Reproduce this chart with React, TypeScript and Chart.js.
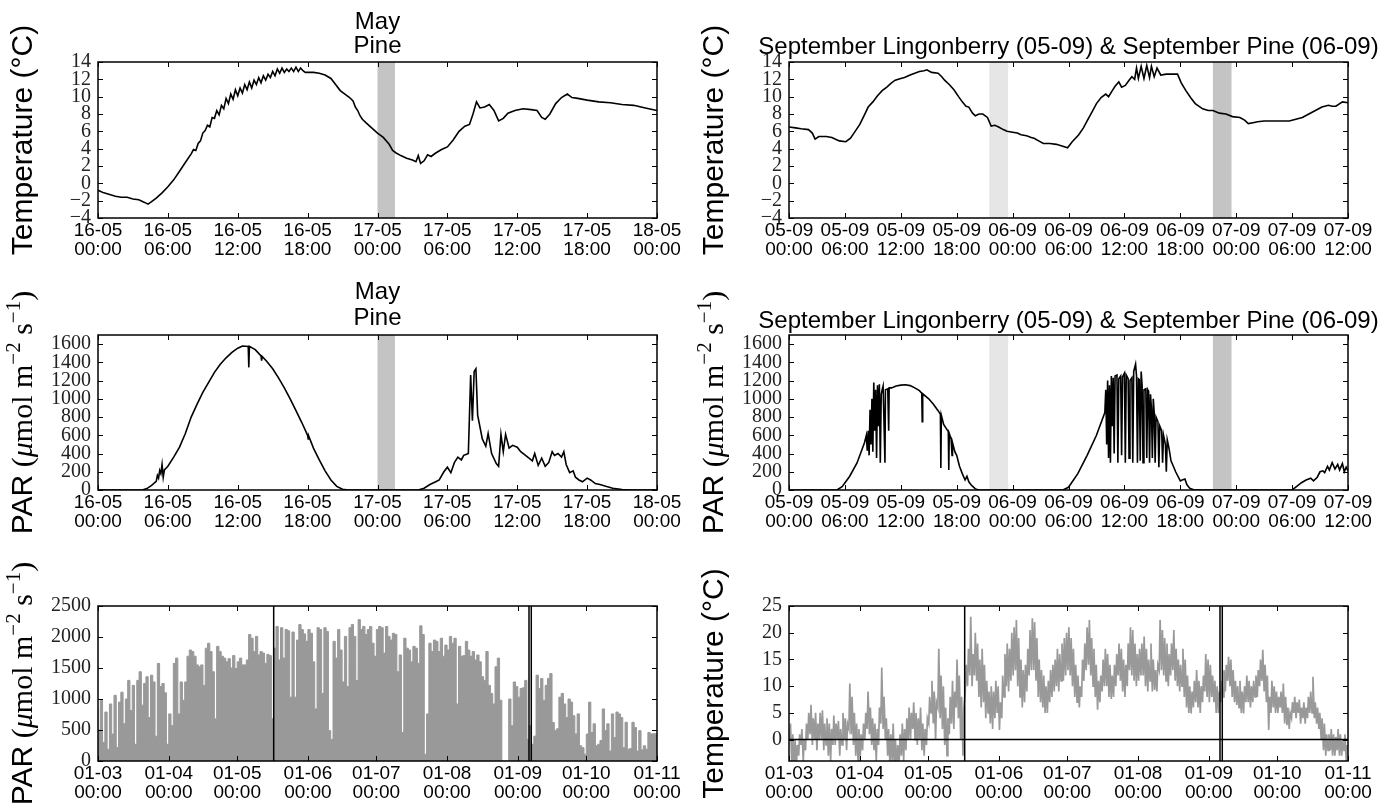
import React, { useEffect, useRef } from "react";
import { Chart, registerables } from "chart.js";
Chart.register(...registerables);

const SANS = '"Liberation Sans", Arial, sans-serif';
const SERIF = '"Liberation Serif", "Times New Roman", serif';

// ---------- May (16-05 00:00 .. 18-05 00:00), x = hours ----------
const mayTemp: [number, number][] = [
  [0,-0.8],[0.5,-1.1],[1,-1.3],[1.5,-1.5],[2,-1.6],[2.5,-1.6],[3,-1.8],[3.5,-1.9],[4,-2.2],[4.3,-2.4],[4.6,-2.1],[5,-1.7],[5.5,-1.1],[6,-0.4],[6.5,0.4],[7,1.4],[7.5,2.4],
  [8,3.4],[8.2,3.9],[8.4,3.8],[8.6,4.6],[8.8,4.9],[9,5.8],[9.2,6.1],[9.4,6.7],[9.6,6.5],[9.8,7.6],[10,7.5],[10.2,8.4],[10.4,7.9],[10.6,9.0],[10.8,8.6],[11,9.8],[11.2,9.2],[11.4,10.3],[11.6,9.7],[11.8,10.8],[12,10.1],[12.2,11.0],[12.4,10.4],[12.6,11.4],[12.8,10.8],[13,11.7],[13.2,11.0],[13.4,11.9],[13.6,11.4],[13.8,12.2],[14,11.6],[14.2,12.4],[14.4,11.9],[14.6,12.6],[14.8,12.2],[15,12.9],[15.2,12.4],[15.4,13.2],[15.6,12.7],[15.8,13.3],[16,12.8],[16.2,13.2],[16.4,12.9],[16.6,13.3],[16.8,12.9],[17,13.4],[17.2,12.9],[17.4,13.3],[17.6,13.0],[17.8,12.8],
  [18.5,12.8],[19,12.7],[19.5,12.5],[20,12.1],[20.4,11.4],[20.8,10.7],[21.2,10.3],[21.6,9.9],[21.9,9.5],[22.1,8.8],[22.3,8.4],[22.5,7.8],[22.7,7.4],[23,7.0],[23.5,6.4],[24,5.8],[24.5,5.3],[25,4.5],[25.3,3.8],[25.6,3.5],[26,3.2],[26.5,2.9],[27,2.7],[27.3,2.5],[27.5,3.2],[27.7,2.3],[28,2.6],[28.3,3.3],[28.6,3.1],[29,3.5],[29.5,3.9],[30,4.2],[30.5,5.0],[31,6.0],[31.5,6.6],[31.9,6.8],[32.2,8.0],[32.5,9.4],[32.8,8.7],[33.2,8.8],[33.6,9.1],[34,8.4],[34.4,7.2],[34.8,7.5],[35.2,8.1],[35.8,8.4],[36.5,8.6],[37.2,8.5],[37.7,8.4],[38.1,7.6],[38.4,7.4],[38.8,8.0],[39.3,9.2],[39.8,9.9],[40.3,10.3],[40.7,9.9],[41.2,9.8],[42,9.6],[43,9.4],[44,9.3],[45,9.1],[46,9.0],[47,8.7],[48,8.4]
];

const mayPar: [number, number][] = [
  [0,0],[3.8,0],[4.2,15],[4.6,50],[5,95],[5.1,160],[5.2,130],[5.3,215],[5.4,180],[5.5,280],[5.6,140],[5.7,220],[6,260],[6.5,360],[7,470],[7.5,620],[8,800],[8.5,940],[9,1070],[9.5,1180],[10,1290],[10.5,1380],[11,1450],[11.5,1510],[12,1555],[12.4,1580],[12.9,1575],[12.95,1345],[13,1575],[13.5,1540],[14,1470],[14.05,1420],[14.1,1465],[14.5,1410],[15,1330],[15.5,1230],[16,1120],[16.5,1000],[17,870],[17.5,740],[18,600],[18.05,560],[18.1,590],[18.5,460],[19,330],[19.5,210],[20,110],[20.5,40],[21,8],[21.5,0],
  [27.5,0],[28,20],[28.5,60],[29,90],[29.3,110],[29.7,200],[30,250],[30.3,190],[30.6,300],[30.9,360],[31.2,330],[31.4,380],[31.6,390],[31.8,400],[32,1260],[32.15,760],[32.3,1300],[32.45,1330],[32.6,820],[33,560],[33.3,480],[33.5,620],[33.8,400],[34.2,290],[34.4,260],[34.6,610],[34.8,420],[35,610],[35.3,460],[35.6,490],[36,470],[36.3,420],[36.6,390],[36.9,360],[37.3,320],[37.5,400],[37.8,270],[38.1,350],[38.4,260],[38.7,300],[39,420],[39.2,380],[39.5,400],[39.8,360],[40,420],[40.2,280],[40.5,190],[40.8,210],[41,140],[41.3,110],[41.6,90],[42,130],[42.3,110],[42.7,70],[43.1,60],[43.6,40],[44.2,20],[45,5],[45.8,0],[48,0]
];

// ---------- September (05-09 00:00 .. 07-09 12:00), x = hours ----------
const sepTemp: [number, number][] = [
  [0,6.5],[0.7,6.4],[1.3,6.3],[2.1,6.2],[2.5,5.8],[2.8,5.1],[3.2,5.4],[4,5.4],[4.6,5.3],[5.4,4.9],[6.1,4.8],[6.6,5.2],[7.1,6.0],[7.6,6.8],[8.1,7.9],[8.5,8.8],[9,9.4],[9.5,10.1],[10,10.7],[10.5,11.1],[11,11.6],[11.4,11.9],[12,12.1],[12.4,12.2],[13,12.5],[13.5,12.7],[14,12.9],[14.5,13.0],[14.8,13.1],[15.3,12.8],[16,12.7],[16.4,12.3],[16.7,11.9],[17.2,11.4],[17.7,10.8],[18.2,10.0],[18.6,9.4],[19,8.9],[19.3,8.8],[19.7,8.1],[20,7.8],[20.4,8.0],[20.8,8.0],[21.3,7.6],[21.7,6.6],[22.1,6.7],[22.5,6.5],[23,6.2],[23.4,6.0],[24,5.9],[24.5,5.8],[24.9,5.6],[25.5,5.5],[26,5.3],[26.3,5.2],[26.8,4.9],[27.3,4.6],[28,4.6],[28.7,4.5],[29.3,4.3],[29.9,4.1],[30.4,4.8],[31.1,5.6],[31.6,6.4],[32,7.2],[32.5,8.2],[33,9.2],[33.5,9.9],[34,10.3],[34.3,10.0],[34.7,10.7],[35,11.2],[35.4,11.7],[35.7,11.1],[36.1,11.3],[36.5,11.9],[36.8,12.3],[37.1,12.0],[37.3,13.3],[37.5,12.1],[37.8,13.5],[38.1,12.1],[38.4,13.6],[38.7,12.2],[38.9,13.5],[39.2,12.3],[39.5,13.3],[39.9,12.5],[40.5,12.6],[41.2,12.6],[41.7,12.6],[42.1,11.6],[42.6,10.7],[43.1,9.9],[43.6,9.2],[44.4,8.6],[45,8.4],[45.5,8.4],[46.2,8.1],[46.9,8.0],[47.6,7.7],[48.4,7.6],[48.9,7.3],[49.3,6.9],[49.8,7.0],[50.3,7.1],[51,7.2],[51.7,7.2],[52.5,7.2],[53.7,7.2],[54.4,7.4],[55.1,7.6],[55.8,8.0],[56.5,8.4],[57.2,8.8],[57.9,9.0],[58.3,8.9],[58.7,8.9],[59.4,9.4],[60,9.3]
];

const sepPar: [number, number][] = [
  [0,0],[5.15,0],[5.7,37],[6.5,148],[7.3,296],[8.1,518],[8.3,600],[8.4,430],[8.5,650],[8.6,380],[8.7,880],[8.8,500],[8.9,1000],[9.0,420],[9.1,1180],[9.2,650],[9.3,1100],[9.4,350],[9.5,1150],[9.6,700],[9.7,1160],[9.8,300],[9.9,1050],[10.0,1100],[10.1,1140],[10.3,300],[10.35,1100],[10.6,1110],[10.7,650],[10.75,1120],[11,1120],[11.5,1140],[12,1150],[12.5,1155],[13,1145],[13.5,1120],[14,1090],[14.25,1060],[14.3,750],[14.35,1055],[15,1000],[15.5,940],[16,870],[16.25,830],[16.3,240],[16.35,820],[16.6,720],[17.1,640],[17.15,220],[17.2,620],[17.4,560],[17.5,380],[17.55,520],[17.8,420],[18,380],[18.3,260],[18.6,180],[18.9,110],[19.1,150],[19.3,90],[19.6,50],[20,12],[20.4,0],
  [29.4,0],[30,30],[31,180],[32,380],[33,600],[33.9,850],[34.0,1100],[34.1,500],[34.2,1200],[34.3,350],[34.4,1150],[34.5,300],[34.6,1250],[34.7,700],[34.8,1230],[34.9,400],[35.0,1250],[35.2,1260],[35.3,300],[35.4,1220],[35.6,1250],[35.7,380],[35.8,1240],[36.0,1280],[36.1,300],[36.2,1260],[36.4,1220],[36.5,350],[36.6,1200],[36.8,1230],[36.9,300],[37.0,1300],[37.2,1380],[37.3,1250],[37.4,300],[37.5,1220],[37.6,1210],[37.7,320],[37.8,1300],[37.9,1150],[38.0,300],[38.1,1100],[38.3,1110],[38.4,350],[38.5,1100],[38.6,1080],[38.7,300],[38.8,1050],[38.9,900],[39.0,350],[39.1,1000],[39.2,850],[39.3,300],[39.4,800],[39.6,750],[39.7,250],[39.8,700],[40.0,650],[40.1,300],[40.2,600],[40.4,500],[40.5,200],[40.6,550],[40.8,450],[41.0,320],[41.3,250],[41.5,200],[42,100],[42.2,110],[42.5,120],[42.7,60],[43,20],[43.5,0],
  [54,0],[54.5,40],[55,80],[55.5,110],[56,130],[56.3,100],[56.7,140],[57,200],[57.3,210],[57.5,190],[57.8,260],[58,220],[58.3,300],[58.6,230],[58.9,280],[59.1,220],[59.4,290],[59.6,200],[59.8,250],[60,210]
];

// ---------- Season (01-03 .. 01-11), daily values ----------
const parMar = [840,500,980,300,790,190,920,435,1060,220,950,1110,600,1000,1300,815,1220,270,1300,1440,900,1250,1360,700,1385,1275,400,1575,1200,1250,1100];
const parApr = [270,760,570,1575,1660,760,1275,980,1275,1690,1790,1765,1690,1550,1520,1550,1220,1820,1900,1765,1440,680,1850,1765,1690,1660,1600,1650,1500,1700];
const parMay = [1490,1600,1660,1550,1550,1630,2040,1980,1765,2010,1710,1765,1740,1575,1720,1700,680,1820,2170,1630,2150,1660,2120,2100,1030,2080,1030,1950,2200,2120,2050];
const parJun = [1930,2120,2060,1600,840,2150,2120,1090,2150,2090,490,350,1930,1660,2120,1790,1275,2010,1200,2150,2200,2010,1300,2280,2120,2170,2040,2120,2170,1900];
const parJul = [1690,2120,2170,2150,1740,2170,2010,1950,2060,2040,1440,1710,460,1980,1820,1790,1600,1850,1820,1575,2180,2040,110,760,1900,1765,1950,1930,1765,1980,1690];
const parAug = [1870,1790,2010,1900,1980,920,1850,1690,1700,1930,1790,1690,1765,1630,1710,1600,1360,1300,1765,1220,1090,920,1520,1660,980,0,0,0,1000,570,1275];
const parSep = [1200,1030,1170,1180,1300,350,570,270,400,1385,1170,1330,980,1220,1330,1410,620,490,520,1030,1090,920,700,1000,950,730,435,760,245,215];
const parOct = [110,435,950,460,600,245,270,330,840,490,600,160,760,380,790,760,700,215,625,190,200,625,540,160,490,180,245,190,460,435,440];

const tMaxMar = [3,1,0,-1,1,2,0,3,5,6.5,4,5,3,5,5.5,3,4,3,2,4.5,3,3.5,2,5,4,3,10.5,8,5,3,2];
const tMinMar = [0,-5,-6,-5,-3,-1,-4,-2,0,1,-1,0,-2,0,0,-2,-1,-3,-4,-1,-1,0,-3,-1,0,-2,2,1,-1,-3,-4];
const tMaxApr = [1,3,5,9,6,4,3,2,6,13.5,8,4,2,1,3,0,-1,1,3,2,4,6,5,7,5,4,6,3,2,4];
const tMinApr = [-3,-2,0,2,1,-1,-2,-4,-1,3,2,0,-3,-5,-4,-6,-6,-5,-3,-4,-2,0,0,2,0,-1,0,-2,-3,-1];
const tMaxMay = [8,11,9,7,17,12,10,6,4,8,11,9,15,12,8,6,14,17,23,16,20,18,15,17,14,11,9,10,9,11,10];
const tMinMay = [3,5,3,0,6,4,2,-1,-3,1,3,2,6,4,0,-3,9,10,12,10,12,11,8,6,7,4,5,3,2,4,5];
const tMaxJun = [7,12,16,18,17,20,21,22.4,19,15,13,14,17,20.5,22.7,22,19,15,13,12,10,11,13,14,15,17,16,18,19,20];
const tMinJun = [1.8,4,8,10,9,11,12,13,10,8,6,7,9,12,13,13,11,8,7,6,5,5,7,8,9,10,9,11,11,12];
const tMaxJul = [21,19,17,14,12,10,15,18,21,22.4,19,17,14,11,12,15,17,16,14,12,14,16,18,17,15,14,18,21,20.5,18,16];
const tMinJul = [13,12,10,8,7,6,8,11,13,14,12,10,8,5.6,7,9,10,10,8,7.6,8,10,12,11,9,8,10,13,12,11,10];
const tMaxAug = [17,18,19.3,17,15,18,15,13,14,22.4,20.5,19,18,16,18,20.5,17,15,14,17,15,12,10,9,11,13,11,10,12,16,15];
const tMinAug = [11,12,12,10,9,11,9,9.3,9,13,13,12,11,10,12,13,11,10,9,10,8,6,5,4.9,6,7,6,5,7,9,8];
const tMaxSep = [14,12,11,10,9,11,13,14,15.5,15,13,11,10,11,9,10,12,11,10,11,12,13,15,16.8,14,12,8,11,10,9];
const tMinSep = [7,8,7,5,5,7,8,9,11,10,8,7,6.5,6,5,4.9,7,7,6,7,8,8,10,11,9,7,1.8,5,6,5];
const tMaxOct = [8,9,10.5,8,6,5,7,8,7,7.5,6,7,6,8,9,11.75,7,6,5,4,3,1,1,2,1,0.5,2,1,0,1,-1];
const tMinOct = [5,6,5,3,2.7,2,4,5,4,5,3,4,3,4,5,5,4,3,2,0,-2,-3,-2,-2,-3,-3,-2,-3,-3,-2,-4];

// ---------- axes ----------
const mayHourTicks = [0, 6, 12, 18, 24, 30, 36, 42, 48];
const sepHourTicks = [0, 6, 12, 18, 24, 30, 36, 42, 48, 54, 60];
const monthStartDays = [0, 31, 61, 92, 122, 153, 184, 214, 245];
const monthTickLabels = ["01-03", "01-04", "01-05", "01-06", "01-07", "01-08", "01-09", "01-10", "01-11"];
const tempTicks = [-4, -2, 0, 2, 4, 6, 8, 10, 12, 14];
const parTicks = [0, 200, 400, 600, 800, 1000, 1200, 1400, 1600];
const seasonParTicks = [0, 500, 1000, 1500, 2000, 2500];
const seasonTempTicks = [0, 5, 10, 15, 20, 25];
const mayBand = [24, 25.5];
const sepLightBand = [21.5, 23.5];
const sepDarkBand = [45.5, 47.5];
const seasonMarkDays = [77, 188.9, 189.9];

const pad2 = (n: number) => (n < 10 ? "0" + n : "" + n);
const mayLabel = (h: number) => [`${16 + Math.floor(h / 24)}-05`, `${pad2(h % 24)}:00`];
const sepLabel = (h: number) => [`${pad2(5 + Math.floor(h / 24))}-09`, `${pad2(h % 24)}:00`];
const monthLabel = (d: number) => [monthTickLabels[monthStartDays.indexOf(d)] ?? "", "00:00"];

const pts = (p: [number, number][]) => p.map(([x, y]) => ({ x, y }));
const parDaily = [...parMar, ...parApr, ...parMay, ...parJun, ...parJul, ...parAug, ...parSep, ...parOct];
const tMaxDaily = [...tMaxMar, ...tMaxApr, ...tMaxMay, ...tMaxJun, ...tMaxJul, ...tMaxAug, ...tMaxSep, ...tMaxOct];
const tMinDaily = [...tMinMar, ...tMinApr, ...tMinMay, ...tMinJun, ...tMinJul, ...tMinAug, ...tMinSep, ...tMinOct];

// daily maximum held over each day
const parSeasonPts = [...parDaily.map((v, i) => ({ x: i, y: v })), { x: parDaily.length, y: parDaily[parDaily.length - 1] }];

const tempSeasonPts: { x: number; y: number }[] = [];
tMaxDaily.forEach((mx, i) => {
  tempSeasonPts.push({ x: i + 0.25, y: tMinDaily[i] });
  tempSeasonPts.push({ x: i + 0.65, y: mx });
});

type Spec = {
  x: number; y: number; w: number; h: number;
  area: { l: number; t: number; r: number; b: number };
  xMin: number; xMax: number; xTicks: number[]; xLabel: (v: number) => string[];
  yMin: number; yMax: number; yTicks: number[];
  datasets: any[];
  bands?: { from: number; to: number; color: string }[];
  vlines?: number[]; hlines?: number[];
  titles?: { text: string; y: number }[];
  yTitle: "temp" | "par"; yTitleX: number;
};

const LIGHT = "#e6e6e6";
const DARK = "#c4c4c4";

function drawYTitle(ctx: CanvasRenderingContext2D, kind: string, x: number, yc: number) {
  const pieces =
    kind === "temp"
      ? [{ t: "Temperature (°C)", f: `30px ${SANS}`, dy: 0 }]
      : [
          { t: "PAR", f: `30px ${SANS}`, dy: 0 },
          { t: " (", f: `30px ${SERIF}`, dy: 0 },
          { t: "μ", f: `italic 30px ${SERIF}`, dy: 0 },
          { t: "mol m", f: `30px ${SERIF}`, dy: 0 },
          { t: "−2", f: `21px ${SERIF}`, dy: -12 },
          { t: " s", f: `30px ${SERIF}`, dy: 0 },
          { t: "−1", f: `21px ${SERIF}`, dy: -12 },
          { t: ")", f: `30px ${SERIF}`, dy: 0 },
        ];
  ctx.save();
  ctx.translate(x, yc);
  ctx.rotate(-Math.PI / 2);
  ctx.fillStyle = "#000";
  ctx.textBaseline = "alphabetic";
  ctx.textAlign = "left";
  let total = 0;
  const ws = pieces.map((p) => {
    ctx.font = p.f;
    const w = ctx.measureText(p.t).width;
    total += w;
    return w;
  });
  let cx = -total / 2;
  pieces.forEach((p, i) => {
    ctx.font = p.f;
    ctx.fillText(p.t, cx, p.dy);
    cx += ws[i];
  });
  ctx.restore();
}

function makeConfig(s: Spec): any {
  const a = s.area;
  const deco = {
    id: "deco",
    beforeDatasetsDraw(chart: any) {
      const { ctx, chartArea: ca } = chart;
      const xs = chart.scales.x;
      (s.bands || []).forEach((b) => {
        const x1 = xs.getPixelForValue(b.from);
        const x2 = xs.getPixelForValue(b.to);
        ctx.save();
        ctx.fillStyle = b.color;
        ctx.fillRect(x1, ca.top, x2 - x1, ca.bottom - ca.top);
        ctx.restore();
      });
    },
    afterDatasetsDraw(chart: any) {
      const { ctx, chartArea: ca } = chart;
      const xs = chart.scales.x;
      const ys = chart.scales.y;
      ctx.save();
      ctx.strokeStyle = "#000";
      ctx.lineWidth = 1.5;
      (s.vlines || []).forEach((v) => {
        const px = xs.getPixelForValue(v);
        ctx.beginPath();
        ctx.moveTo(px, ca.top);
        ctx.lineTo(px, ca.bottom);
        ctx.stroke();
      });
      (s.hlines || []).forEach((v) => {
        const py = ys.getPixelForValue(v);
        ctx.beginPath();
        ctx.moveTo(ca.left, py);
        ctx.lineTo(ca.right, py);
        ctx.stroke();
      });
      ctx.restore();
    },
    afterDraw(chart: any) {
      const { ctx, chartArea: ca } = chart;
      const xs = chart.scales.x;
      const ys = chart.scales.y;
      ctx.save();
      ctx.strokeStyle = "#000";
      ctx.lineWidth = 1;
      const L = 5;
      s.xTicks.forEach((v) => {
        const px = Math.round(xs.getPixelForValue(v)) + 0.5;
        ctx.beginPath();
        ctx.moveTo(px, ca.bottom);
        ctx.lineTo(px, ca.bottom - L);
        ctx.moveTo(px, ca.top);
        ctx.lineTo(px, ca.top + L);
        ctx.stroke();
      });
      s.yTicks.forEach((v) => {
        const py = Math.round(ys.getPixelForValue(v)) + 0.5;
        ctx.beginPath();
        ctx.moveTo(ca.left, py);
        ctx.lineTo(ca.left + L, py);
        ctx.moveTo(ca.right, py);
        ctx.lineTo(ca.right - L, py);
        ctx.stroke();
      });
      ctx.lineWidth = 1.5;
      ctx.strokeRect(ca.left, ca.top, ca.right - ca.left, ca.bottom - ca.top);
      ctx.fillStyle = "#000";
      ctx.font = `24px ${SANS}`;
      ctx.textAlign = "center";
      ctx.textBaseline = "middle";
      const cxm = (ca.left + ca.right) / 2;
      (s.titles || []).forEach((t) => ctx.fillText(t.text, cxm, t.y));
      ctx.restore();
      drawYTitle(ctx, s.yTitle, s.yTitleX, (ca.top + ca.bottom) / 2);
    },
  };
  return {
    type: "line",
    data: { datasets: s.datasets },
    plugins: [deco],
    options: {
      animation: false,
      responsive: false,
      maintainAspectRatio: false,
      devicePixelRatio: 1,
      events: [],
      parsing: false,
      layout: { padding: { top: a.t, right: s.w - a.r, left: 0, bottom: 0 } },
      plugins: { legend: { display: false }, tooltip: { enabled: false }, title: { display: false } },
      elements: { point: { radius: 0 }, line: { tension: 0 } },
      scales: {
        x: {
          type: "linear",
          min: s.xMin,
          max: s.xMax,
          grid: { display: false, drawTicks: false },
          border: { display: false },
          ticks: {
            autoSkip: false,
            maxRotation: 0,
            minRotation: 0,
            padding: 3,
            color: "#000",
            font: { family: SANS, size: 19, lineHeight: 1.02 },
            callback: (v: any) => s.xLabel(Number(v)),
          },
          afterBuildTicks: (sc: any) => {
            sc.ticks = s.xTicks.map((v) => ({ value: v }));
          },
          afterFit: (sc: any) => {
            sc.height = s.h - a.b;
          },
        },
        y: {
          type: "linear",
          min: s.yMin,
          max: s.yMax,
          grid: { display: false, drawTicks: false },
          border: { display: false },
          ticks: {
            autoSkip: false,
            padding: 7,
            color: "#222",
            font: { family: SERIF, size: 20, lineHeight: 1 },
            callback: (v: any) => String(v).replace("-", "−"),
          },
          afterBuildTicks: (sc: any) => {
            sc.ticks = s.yTicks.map((v) => ({ value: v }));
          },
          afterFit: (sc: any) => {
            sc.width = a.l;
          },
        },
      },
    },
  };
}

function Panel({ spec }: { spec: Spec }) {
  const ref = useRef<HTMLCanvasElement>(null);
  useEffect(() => {
    const chart = new Chart(ref.current as HTMLCanvasElement, makeConfig(spec));
    return () => chart.destroy();
  }, []);
  return (
    <canvas
      ref={ref}
      width={spec.w}
      height={spec.h}
      style={{ position: "absolute", left: spec.x, top: spec.y, width: spec.w, height: spec.h }}
    />
  );
}

const blackLine = (data: any[]) => ({ data, borderColor: "#000", borderWidth: 1.6, pointRadius: 0, fill: false });

const LEFT = { x: 0, w: 690, l: 98, r: 657 };
const RIGHT = { x: 690, w: 701, l: 99, r: 658 };
const ROW1 = { y: 0, h: 265, t: 62, b: 218 };
const ROW2 = { y: 265, h: 275, t: 70, b: 225 };
const ROW3 = { y: 540, h: 268, t: 66, b: 221 };

const cell = (c: typeof LEFT, r: typeof ROW1) => ({
  x: c.x, y: r.y, w: c.w, h: r.h, area: { l: c.l, t: r.t, r: c.r, b: r.b },
});

const specs: Spec[] = [
  {
    ...cell(LEFT, ROW1),
    xMin: 0, xMax: 48, xTicks: mayHourTicks, xLabel: mayLabel,
    yMin: -4, yMax: 14, yTicks: tempTicks,
    datasets: [blackLine(pts(mayTemp))],
    bands: [{ from: mayBand[0], to: mayBand[1], color: DARK }],
    titles: [{ text: "May", y: 22 }, { text: "Pine", y: 46 }],
    yTitle: "temp", yTitleX: 32,
  },
  {
    ...cell(RIGHT, ROW1),
    xMin: 0, xMax: 60, xTicks: sepHourTicks, xLabel: sepLabel,
    yMin: -4, yMax: 14, yTicks: tempTicks,
    datasets: [blackLine(pts(sepTemp))],
    bands: [
      { from: sepLightBand[0], to: sepLightBand[1], color: LIGHT },
      { from: sepDarkBand[0], to: sepDarkBand[1], color: DARK },
    ],
    titles: [{ text: "September Lingonberry (05-09) & September Pine (06-09)", y: 47 }],
    yTitle: "temp", yTitleX: 33,
  },
  {
    ...cell(LEFT, ROW2),
    xMin: 0, xMax: 48, xTicks: mayHourTicks, xLabel: mayLabel,
    yMin: 0, yMax: 1700, yTicks: parTicks,
    datasets: [blackLine(pts(mayPar))],
    bands: [{ from: mayBand[0], to: mayBand[1], color: DARK }],
    titles: [{ text: "May", y: 27 }, { text: "Pine", y: 53 }],
    yTitle: "par", yTitleX: 32,
  },
  {
    ...cell(RIGHT, ROW2),
    xMin: 0, xMax: 60, xTicks: sepHourTicks, xLabel: sepLabel,
    yMin: 0, yMax: 1700, yTicks: parTicks,
    datasets: [blackLine(pts(sepPar))],
    bands: [
      { from: sepLightBand[0], to: sepLightBand[1], color: LIGHT },
      { from: sepDarkBand[0], to: sepDarkBand[1], color: DARK },
    ],
    titles: [{ text: "September Lingonberry (05-09) & September Pine (06-09)", y: 56 }],
    yTitle: "par", yTitleX: 33,
  },
  {
    ...cell(LEFT, ROW3),
    xMin: 0, xMax: 245, xTicks: monthStartDays, xLabel: monthLabel,
    yMin: 0, yMax: 2500, yTicks: seasonParTicks,
    datasets: [
      {
        data: parSeasonPts,
        stepped: "after",
        borderColor: "#999",
        backgroundColor: "#999",
        borderWidth: 1,
        pointRadius: 0,
        fill: "origin",
      },
    ],
    vlines: seasonMarkDays,
    yTitle: "par", yTitleX: 32,
  },
  {
    ...cell(RIGHT, ROW3),
    xMin: 0, xMax: 245, xTicks: monthStartDays, xLabel: monthLabel,
    yMin: -4, yMax: 25, yTicks: seasonTempTicks,
    datasets: [{ data: tempSeasonPts, borderColor: "#999", borderWidth: 1.7, pointRadius: 0, fill: false }],
    vlines: seasonMarkDays,
    hlines: [0],
    yTitle: "temp", yTitleX: 33,
  },
];

export default function App() {
  return (
    <div style={{ position: "absolute", left: 0, top: 0, width: 1391, height: 808, background: "#fff", overflow: "hidden" }}>
      {specs.map((s, i) => (
        <Panel key={i} spec={s} />
      ))}
    </div>
  );
}
